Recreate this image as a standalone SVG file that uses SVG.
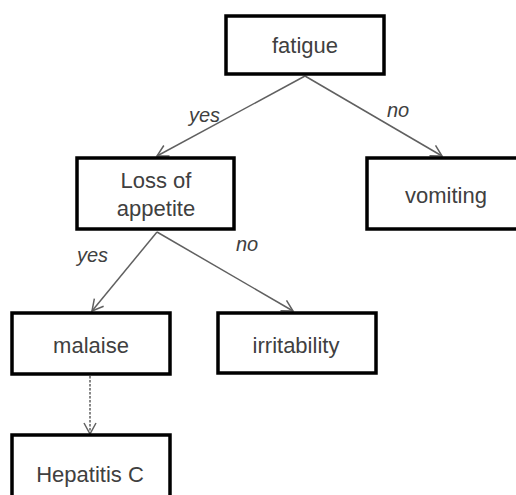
<svg xmlns="http://www.w3.org/2000/svg" width="516" height="495" viewBox="0 0 516 495">
<style>
.box{fill:#fff;stroke:#000;stroke-width:3.5}
.t{font-family:"Liberation Sans",Arial,sans-serif;font-size:22px;fill:#404040;text-anchor:middle}
.lbl{font-family:"Liberation Sans",Arial,sans-serif;font-size:20px;font-style:italic;fill:#404040}
.c{stroke:#606060;stroke-width:1.5;fill:none}
.d{stroke:#606060;stroke-width:1.5;fill:none;stroke-dasharray:2.5 1.5}
</style>
<defs>
<marker id="ah" markerWidth="14" markerHeight="14" refX="12" refY="7" orient="auto" markerUnits="userSpaceOnUse">
<path d="M1,1 L12,7 L1,13" fill="none" stroke="#606060" stroke-width="1.5"/>
</marker>
</defs>
<rect width="516" height="495" fill="#fff"/>
<g id="connectors">
<line class="c" x1="305" y1="76" x2="157" y2="156" marker-end="url(#ah)"/>
<line class="c" x1="305" y1="76" x2="442" y2="156" marker-end="url(#ah)"/>
<line class="c" x1="157" y1="232" x2="92" y2="311" marker-end="url(#ah)"/>
<line class="c" x1="157" y1="232" x2="293" y2="311" marker-end="url(#ah)"/>
<line class="d" x1="90" y1="376" x2="90" y2="434" marker-end="url(#ah)"/>
<text class="lbl" x="189" y="122">yes</text>
<text class="lbl" x="387" y="117">no</text>
<text class="lbl" x="77" y="262">yes</text>
<text class="lbl" x="236" y="251">no</text>
</g>
<g id="fatigue">
<rect class="box" x="226" y="16" width="158" height="58"/>
<text class="t" x="305" y="53">fatigue</text>
</g>
<g id="loss">
<rect class="box" x="77" y="158" width="157" height="71"/>
<text class="t" x="156" y="188">Loss of</text>
<text class="t" x="156" y="216">appetite</text>
</g>
<g id="vomiting">
<rect class="box" x="367" y="158" width="160" height="71"/>
<text class="t" x="446" y="203">vomiting</text>
</g>
<g id="malaise">
<rect class="box" x="12" y="313" width="158" height="61"/>
<text class="t" x="91" y="353">malaise</text>
</g>
<g id="irritability">
<rect class="box" x="218" y="313" width="158" height="60"/>
<text class="t" x="296" y="353">irritability</text>
</g>
<g id="hepatitis">
<rect class="box" x="12" y="435" width="158" height="70"/>
<text class="t" x="90" y="482">Hepatitis C</text>
</g>
</svg>
